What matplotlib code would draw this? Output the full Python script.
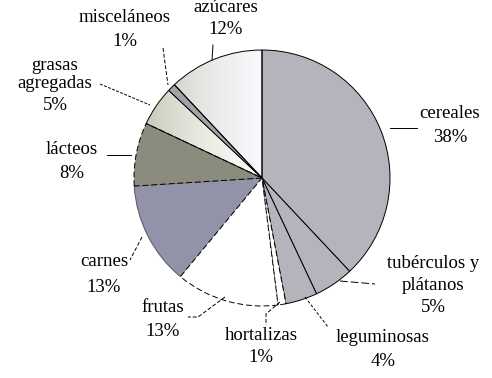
import matplotlib.pyplot as plt
import numpy as np
from matplotlib.colors import LinearSegmentedColormap

# grupos de alimentos, en sentido horario desde arriba
grupos = ['cereales', 'tubérculos y\nplátanos', 'leguminosas', 'hortalizas', 'frutas',
          'carnes', 'lácteos', 'grasas\nagregadas', 'misceláneos', 'azúcares']
pct = [38, 5, 4, 1, 13, 13, 8, 5, 1, 12]
colores = ['#b4b4bc', '#b4b4bc', '#b4b4bc', 'white', 'white',
           '#9292a8', '#8c8c7e', 'white', '#a2a2aa', 'white']

fig = plt.figure(figsize=(4.92, 3.78), dpi=100)
ax = fig.add_axes([0, 0, 1, 1])

cx, cy, r = 262, 178, 128
wedges, _ = ax.pie(pct, colors=colores, startangle=-90, counterclock=True,
                   center=(cx, cy), radius=r,
                   wedgeprops=dict(linewidth=0.7, edgecolor='black'))

# bordes punteados
for i in (3, 4, 6):
    wedges[i].set_linestyle((0, (6, 3)))
wedges[5].set_edgecolor('#555566')
wedges[5].set_zorder(0.9)

# degradados para grasas y azúcares
grad = np.linspace(0, 1, 256).reshape(1, -1)
cm_az = LinearSegmentedColormap.from_list('az', ['#bcbcb4', '#e4e4e0', '#fafaff'])
cm_gr = LinearSegmentedColormap.from_list('gr', ['#c4c4b4', '#e8e8e0', '#ffffff'])
for i, cm in ((9, cm_az), (7, cm_gr)):
    wedges[i].set_facecolor('none')
    im = ax.imshow(grad, cmap=cm, extent=(cx - r, cx, cy, cy - r),
                   aspect='auto', zorder=0.5, interpolation='bilinear')
    im.set_clip_path(wedges[i])

ax.set_xlim(0, 492)
ax.set_ylim(378, 0)
ax.axis('off')

fuente = dict(fontsize=13.5, family='Liberation Serif', ha='center', va='center')

# etiquetas
etiquetas = [
    (450, [(113, 'cereales'), (138, '38%')]),
    (433, [(263, 'tubérculos y'), (285, 'plátanos'), (307, '5%')]),
    (383, [(338, 'leguminosas'), (362, '4%')]),
    (261, [(335, 'hortalizas'), (358, '1%')]),
    (163, [(308, 'frutas'), (331, '13%')]),
    (104, [(262, 'carnes'), (287, '13%')]),
    (72, [(150, 'lácteos'), (173, '8%')]),
    (55, [(65, 'grasas'), (84, 'agregadas'), (106, '5%')]),
    (125, [(17, 'misceláneos'), (42, '1%')]),
    (226, [(7, 'azúcares'), (30, '12%')]),
]
for x, lineas in etiquetas:
    for y, s in lineas:
        ax.text(x, y, s, **fuente)

# líneas guía
guias = [
    ([390, 417], [128, 128], '-'),
    ([340, 375], [281, 284], (0, (8, 3))),
    ([305, 328], [297, 327], (0, (3, 2))),
    ([280, 266, 266], [302, 314, 325], (0, (4, 2))),
    ([225, 198, 188], [297, 317, 317], (0, (4, 2))),
    ([142, 130], [237, 260], (0, (4, 2))),
    ([107, 131], [155, 155], '-'),
    ([100, 150], [84, 105], (0, (3, 1.5))),
    ([163, 168], [48, 85], (0, (4, 2))),
    ([213, 212], [45, 60], '-'),
]
for xs, ys, ls in guias:
    ax.plot(xs, ys, color='black', lw=0.7, linestyle=ls)

fig.savefig('out.png', dpi=100)
